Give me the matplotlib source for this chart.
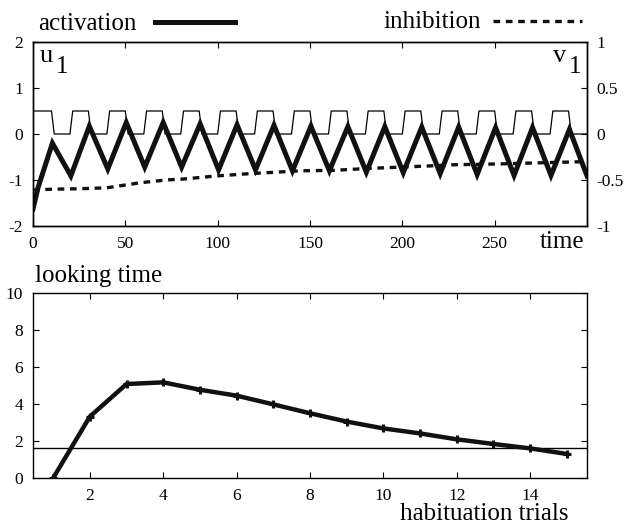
import matplotlib
matplotlib.use("Agg")
import matplotlib.pyplot as plt
from matplotlib.lines import Line2D
import numpy as np

plt.rcParams['font.family'] = ['Liberation Serif', 'DejaVu Serif']
plt.rcParams['font.serif'] = ['Liberation Serif', 'DejaVu Serif']

# ---------------- data ----------------
# stimulus onsets (time) and level; each presentation lasts ~10 time units
trial_onsets = [0, 20, 40, 60, 80, 100, 120, 140, 160, 180, 200, 220, 240, 260, 280]
stim_duration = 10
stim_level = 0.5

# activation u1 (turning points of the trace)
act_t = [0, 2.7, 10.5, 20.5, 30.5, 40.5, 50.5, 60.5, 70.5, 80.5, 90.5, 100.5, 110.5,
         120.5, 130.5, 140.5, 150.5, 160.5, 170.5, 180.5, 190.5, 200.5, 210.5, 220.5,
         230.5, 240.5, 250.5, 260.5, 270.5, 280.5, 290.5, 300]
act_u = [-1.63, -1.17, -0.2, -0.91, 0.17, -0.76, 0.25, -0.72, 0.25, -0.72, 0.22, -0.78,
         0.2, -0.78, 0.19, -0.8, 0.17, -0.8, 0.16, -0.83, 0.16, -0.84, 0.15, -0.86,
         0.15, -0.88, 0.14, -0.9, 0.14, -0.9, 0.1, -0.91]

# inhibition v1 (right axis)
inh_t = [0, 10, 25, 40, 58, 72, 81, 100, 118, 136, 145, 163, 181, 199, 217, 226, 253, 280, 300]
inh_v = [-0.61, -0.6, -0.595, -0.585, -0.53, -0.5, -0.49, -0.455, -0.43, -0.41, -0.4,
         -0.395, -0.375, -0.36, -0.345, -0.335, -0.325, -0.31, -0.3]

# habituation: looking time per trial
trials = [1, 2, 3, 4, 5, 6, 7, 8, 9, 10, 11, 12, 13, 14, 15]
looking = [0.0, 3.32, 5.08, 5.17, 4.77, 4.45, 3.98, 3.5, 3.05, 2.68, 2.41, 2.09, 1.84, 1.6, 1.3]
criterion = 1.62

# ---------------- figure ----------------
W, H = 625, 527
fig = plt.figure(figsize=(W / 100, H / 100), dpi=100)
SERIF = ['Liberation Serif', 'DejaVu Serif']


def fx(px):
    return px / W


def fy(py):
    return 1 - py / H


tick_fs = 12.5
lab_fs = 18

ax1 = fig.add_axes([fx(33), fy(226), fx(587) - fx(33), fy(42) - fy(226)])
ax2 = fig.add_axes([fx(33), fy(478), fx(587) - fx(33), fy(293) - fy(478)])

# stimulus trapezoid path built from onsets
ramp = 1.5
st_t, st_v = [], []
for k, on in enumerate(trial_onsets):
    if k == 0:
        st_t += [on]
        st_v += [stim_level]
    else:
        st_t += [on, on + ramp]
        st_v += [0, stim_level]
    st_t += [on + stim_duration, on + stim_duration + ramp]
    st_v += [stim_level, 0]
st_t.append(300)
st_v.append(0)

ax1.plot(st_t, st_v, color='black', lw=0.9)
ax1.plot(act_t, act_u, color='#111111', lw=3.6, solid_joinstyle='miter')
ax1.set_xlim(0, 300)
ax1.set_ylim(-2, 2)
ax1.set_xticks([0, 50, 100, 150, 200, 250, 300])
ax1.set_xticklabels(['0', '50', '100', '150', '200', '250', ''], family=SERIF)
ax1.set_yticks([-2, -1, 0, 1, 2])
ax1.set_yticklabels(['-2', '-1', '0', '1', '2'], family=SERIF)
ax1.tick_params(direction='in', length=4, width=0.8, labelsize=tick_fs, pad=7,
                top=True, right=False)

ax1r = ax1.twinx()
ax1r.plot(inh_t, inh_v, color='#111111', lw=2.4, linestyle=(0, (2.0, 1.7)))
ax1r.set_ylim(-1, 1)
ax1r.set_yticks([-1, -0.5, 0, 0.5, 1])
ax1r.set_yticklabels(['-1', '-0.5', '0', '0.5', '1'], family=SERIF)
ax1r.tick_params(direction='in', length=4, width=0.8, labelsize=tick_fs, pad=7)
ax1r.set_xlim(0, 300)

for a in (ax1, ax1r, ax2):
    for s in a.spines.values():
        s.set_linewidth(1.0)

ax2.axhline(criterion, color='black', lw=1.0)
ax2.plot(trials, looking, color='#111111', lw=3.2, marker='+', ms=6, mew=2.2)
ax2.set_xlim(0.45, 15.55)
ax2.set_ylim(0, 10)
ax2.set_xticks([2, 4, 6, 8, 10, 12, 14])
ax2.set_xticklabels(['2', '4', '6', '8', '10', '12', '14'], family=SERIF)
ax2.set_yticks([0, 2, 4, 6, 8, 10])
ax2.set_yticklabels(['0', '2', '4', '6', '8', '10'], family=SERIF)
ax2.tick_params(direction='in', length=4, width=0.8, labelsize=tick_fs, pad=7,
                top=True, right=True)

# labels
kw = dict(va='baseline', ha='left', family=SERIF)
fig.text(fx(38), fy(30), 'activation', fontsize=lab_fs, **kw)
fig.add_artist(Line2D([fx(155), fx(235)], [fy(22), fy(22)], color='#111111', lw=3.6))
fig.text(fx(383), fy(28), 'inhibition', fontsize=lab_fs, **kw)
fig.add_artist(Line2D([fx(493), fx(582)], [fy(21), fy(21)], color='#111111', lw=2.4,
                      linestyle=(0, (2.0, 1.7))))
fig.text(fx(40), fy(62), 'u', fontsize=19, **kw)
fig.text(fx(56), fy(73), '1', fontsize=18, **kw)
fig.text(fx(553), fy(62), 'v', fontsize=19, **kw)
fig.text(fx(569), fy(73), '1', fontsize=18, **kw)
fig.text(fx(540), fy(248), 'time', fontsize=lab_fs, **kw)
fig.text(fx(35), fy(282), 'looking time', fontsize=lab_fs, **kw)
fig.text(fx(400), fy(520), 'habituation trials', fontsize=lab_fs, **kw)

fig.savefig('out.png', dpi=100)
